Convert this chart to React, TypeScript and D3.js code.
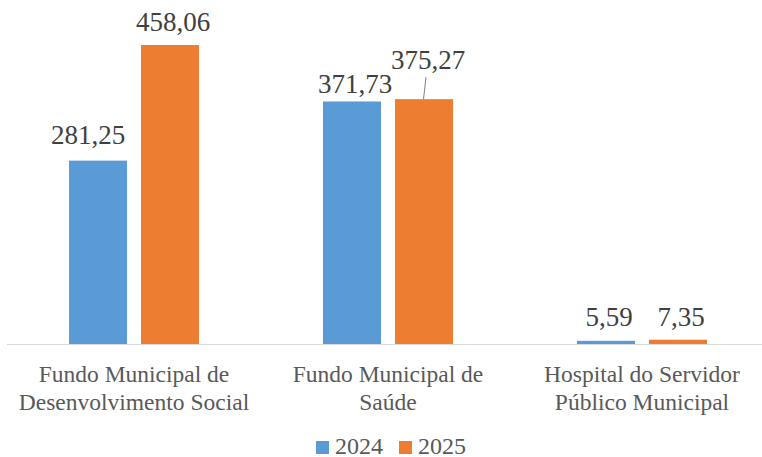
import React from "react";
import * as d3 from "d3";

const categories = [
  ["Fundo Municipal de", "Desenvolvimento Social"],
  ["Fundo Municipal de", "Saúde"],
  ["Hospital do Servidor", "Público Municipal"],
];
const seriesNames = ["2024", "2025"];
const values2024 = [281.25, 371.73, 5.59];
const values2025 = [458.06, 375.27, 7.35];

// label nudges (dx, dy) relative to default position, [category][series]
const labelNudges = [
  [[-10, -2], [3, 1]],
  [[3, 6.5], [4, -15]],
  [[3, 0], [3, 1.5]],
];

const colors = ["#5b9bd5", "#ed7d31"];
const W = 762;
const H = 457;
const baseY = 344.5;
const font = "Liberation Serif, Times New Roman, serif";

export default function App() {
  const x = d3
    .scaleBand<number>()
    .domain(d3.range(categories.length))
    .range([7, 769])
    .padding(0);
  const inner = d3
    .scaleBand<number>()
    .domain([0, 1])
    .range([-65, 65])
    .paddingInner(2 - 130 / 72)
    .paddingOuter(0);
  const y = d3.scaleLinear().domain([0, 500]).range([baseY, baseY - 500 * 0.6538]);
  const series = [values2024, values2025];
  const fmt = (v: number) => v.toFixed(2).replace(".", ",");

  return (
    <svg
      width={W}
      height={H}
      style={{ position: "absolute", left: 0, top: 0, background: "#fff", fontFamily: font }}
    >
      {categories.map((cat, ci) => {
        const cx = x(ci)! + x.bandwidth() / 2;
        return (
          <g key={ci}>
            {series.map((vals, si) => {
              const bx = cx + inner(si)!;
              const top = y(vals[ci]);
              const [dx, dy] = labelNudges[ci][si];
              const lx = bx + inner.bandwidth() / 2 + dx;
              const ly = top - 15 + dy;
              return (
                <g key={si}>
                  <rect
                    x={bx}
                    y={top}
                    width={inner.bandwidth()}
                    height={baseY - top}
                    fill={colors[si]}
                  />
                  <text
                    x={lx}
                    y={ly}
                    textAnchor="middle"
                    fontSize={27}
                    fill="#404040"
                    style={{ fontFamily: font }}
                  >
                    {fmt(vals[ci])}
                  </text>
                  {ci === 1 && si === 1 && (
                    <line
                      x1={lx - 2}
                      y1={ly + 8}
                      x2={bx + inner.bandwidth() / 2 - 0.5}
                      y2={top}
                      stroke="#7f7f7f"
                      strokeWidth={1}
                    />
                  )}
                </g>
              );
            })}
            {cat.map((line, li) => (
              <text
                key={li}
                x={cx}
                y={382 + li * 28}
                textAnchor="middle"
                fontSize={23.5}
                fill="#595959"
                style={{ fontFamily: font }}
              >
                {line}
              </text>
            ))}
          </g>
        );
      })}
      <line x1={7} x2={762} y1={baseY} y2={baseY} stroke="#d9d9d9" strokeWidth={1} />
      {seriesNames.map((name, si) => {
        const lx = si === 0 ? 316 : 399;
        return (
          <g key={name}>
            <rect x={lx} y={441} width={13} height={13} fill={colors[si]} />
            <text x={lx + 19} y={454} fontSize={24} fill="#595959" style={{ fontFamily: font }}>
              {name}
            </text>
          </g>
        );
      })}
    </svg>
  );
}
